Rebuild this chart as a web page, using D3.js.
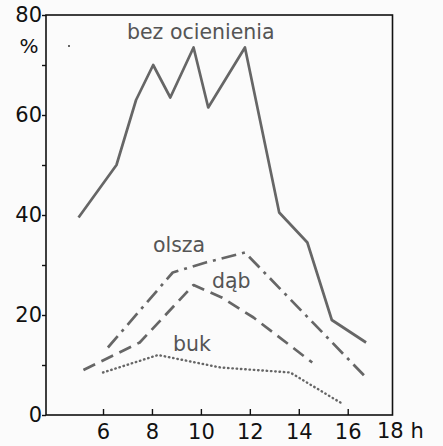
<!DOCTYPE html>
<html>
<head>
<meta charset="utf-8">
<script src="https://cdn.jsdelivr.net/npm/d3@7"></script>
<style>
  body { margin: 0; background: #fbfbfb; }
  svg { display: block; font-family: "DejaVu Sans", sans-serif; }
</style>
</head>
<body>
<svg id="chart" width="443" height="446"></svg>
<script>
// hour of day vs. light (%)
const bezHours = [5.0, 6.55, 7.35, 8.05, 8.75, 9.7, 10.3, 11.8, 13.2, 14.35, 15.35, 16.75];
const bezVals  = [39.5, 50, 63, 70, 63.5, 73.5, 61.5, 73.5, 40.5, 34.5, 19, 14.5];

const olszaHours = [6.2, 8.85, 10.2, 11.8, 16.75];
const olszaVals  = [13.5, 28.5, 30.5, 32.5, 7.5];

const dabHours = [5.2, 7.5, 9.7, 10.85, 12.15, 14.55];
const dabVals  = [9, 14.5, 26, 23.5, 19.5, 10.5];

const bukHours = [6.0, 8.25, 10.8, 13.65, 15.8];
const bukVals  = [8.5, 12, 9.5, 8.5, 2.2];

const xTicks = [6, 8, 10, 12, 14, 16];
const yTicks = [0, 10, 20, 30, 40, 50, 60, 70, 80];
const yLabels = [0, 20, 40, 60, 80];

const svg = d3.select('#chart');

const x = d3.scaleLinear().domain([3.67, 17.83]).range([46, 392.5]);
const y = d3.scaleLinear().domain([0, 80]).range([415, 15]);

// frame
svg.append('rect')
  .attr('x', x(3.67)).attr('y', y(80))
  .attr('width', x(17.83) - x(3.67)).attr('height', y(0) - y(80))
  .attr('fill', 'none').attr('stroke', '#111').attr('stroke-width', 1.6);

// y axis, ticks outward
const yAxis = svg.append('g')
  .attr('transform', 'translate(' + x(3.67) + ',0)')
  .call(d3.axisLeft(y).tickValues(yTicks).tickSize(4)
    .tickFormat(d => yLabels.includes(d) ? d : ''));
yAxis.select('.domain').remove();
yAxis.selectAll('line').attr('stroke', '#111').attr('stroke-width', 1.4);
yAxis.selectAll('text').attr('font-size', 21).attr('fill', '#111').attr('x', -4)
  .attr('font-family', '"DejaVu Sans", sans-serif');

// x axis, ticks inward
const xAxis = svg.append('g')
  .attr('transform', 'translate(0,' + y(0) + ')')
  .call(d3.axisBottom(x).tickValues(xTicks).tickSize(-6).tickPadding(9));
xAxis.select('.domain').remove();
xAxis.selectAll('line').attr('stroke', '#111').attr('stroke-width', 1.4);
xAxis.selectAll('text').attr('font-size', 21).attr('fill', '#111')
  .attr('font-family', '"DejaVu Sans", sans-serif');

svg.append('text').attr('x', 377).attr('y', 438).attr('font-size', 21)
  .attr('fill', '#111').text('18 h');
svg.append('text').attr('x', 29).attr('y', 53).attr('font-size', 20)
  .attr('fill', '#111').attr('text-anchor', 'middle').text('%');

const line = d3.line().x(d => x(d[0])).y(d => y(d[1]));

const series = [
  { h: bezHours, v: bezVals, dash: null, w: 2.7, cap: 'butt' },
  { h: olszaHours, v: olszaVals, dash: '15,6,3,6', w: 2.7, cap: 'butt' },
  { h: dabHours, v: dabVals, dash: '13,7', w: 2.7, cap: 'butt' },
  { h: bukHours, v: bukVals, dash: '0.5,3.8', w: 2.4, cap: 'round' }
];

series.forEach(s => {
  const pts = s.h.map((hr, i) => [hr, s.v[i]]);
  const p = svg.append('path')
    .datum(pts)
    .attr('d', line)
    .attr('fill', 'none')
    .attr('stroke', '#666')
    .attr('stroke-width', s.w)
    .attr('stroke-linecap', s.cap)
    .attr('stroke-linejoin', 'round');
  if (s.dash) p.attr('stroke-dasharray', s.dash);
});

// series labels
const labels = [
  { t: 'bez ocienienia', hx: 6.98, vy: 75.2 },
  { t: 'olsza', hx: 8.04, vy: 32.6 },
  { t: 'dąb', hx: 10.45, vy: 25.4 },
  { t: 'buk', hx: 8.86, vy: 12.8 }
];
svg.selectAll('.lab').data(labels).enter().append('text')
  .attr('class', 'lab')
  .attr('x', d => x(d.hx)).attr('y', d => y(d.vy))
  .attr('font-size', 20.5).attr('fill', '#555')
  .text(d => d.t);

svg.append('circle').attr('cx', 69).attr('cy', 46).attr('r', 1).attr('fill', '#333');
</script>
</body>
</html>
